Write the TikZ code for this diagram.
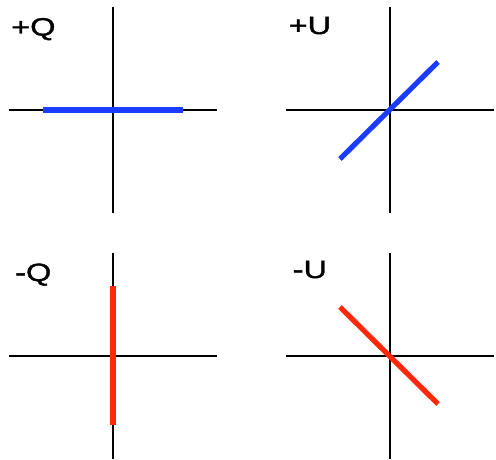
\documentclass[tikz,border=0pt]{standalone}
\usepackage{fontspec}
\usepackage{tikz}
\usetikzlibrary{calc}
\newfontfamily\lblfont[FakeStretch=1.3,FakeBold=1.5]{Liberation Sans}
\definecolor{myBlue}{RGB}{25,60,255}
\definecolor{myRed}{RGB}{255,40,10}
\tikzset{
myAxis/.style={
	draw=black,line width=1.7pt
}
, myPlus/.style={
	draw=myBlue,line width=5.2pt
}
, myMinus/.style={
	draw=myRed,line width=5.2pt
}
, myLabel/.style={
	anchor=base west,inner sep=0pt,text=black,
	font=\fontsize{25}{28}\lblfont
}
}
\begin{document}
\begin{tikzpicture}[x=1pt,y=1pt]
	\useasboundingbox (0,0) rectangle (496,459);
	% panel centres
	\coordinate (QPlus)  at (113,349);
	\coordinate (UPlus)  at (390,349);
	\coordinate (QMinus) at (113,103);
	\coordinate (UMinus) at (390,103);
	% axes
	\foreach \c in {QPlus,UPlus,QMinus,UMinus}{
		\draw[myAxis] ($(\c)+(-104,0)$) -- ($(\c)+(104,0)$);
		\draw[myAxis] ($(\c)+(0,-103)$) -- ($(\c)+(0,103)$);
	}
	% labels
	\node[myLabel] (LQPlus)  at (11,423.5) {+Q};
	\node[myLabel] (LUPlus)  at (288.5,425) {+U};
	\node[myLabel] (LQMinus) at (15,178) {-Q};
	\node[myLabel] (LUMinus) at (292.5,181) {-U};
	% polarisation
	\draw[myPlus]  ($(QPlus)+(-70,0)$) -- ($(QPlus)+(70,0)$);
	\draw[myPlus]  ($(UPlus)+(-50,-49)$) -- ($(UPlus)+(48,48)$);
	\draw[myMinus] ($(QMinus)+(0,70)$) -- ($(QMinus)+(0,-69)$);
	\draw[myMinus] ($(UMinus)+(-50,49)$) -- ($(UMinus)+(48,-48)$);
\end{tikzpicture}
\end{document}
